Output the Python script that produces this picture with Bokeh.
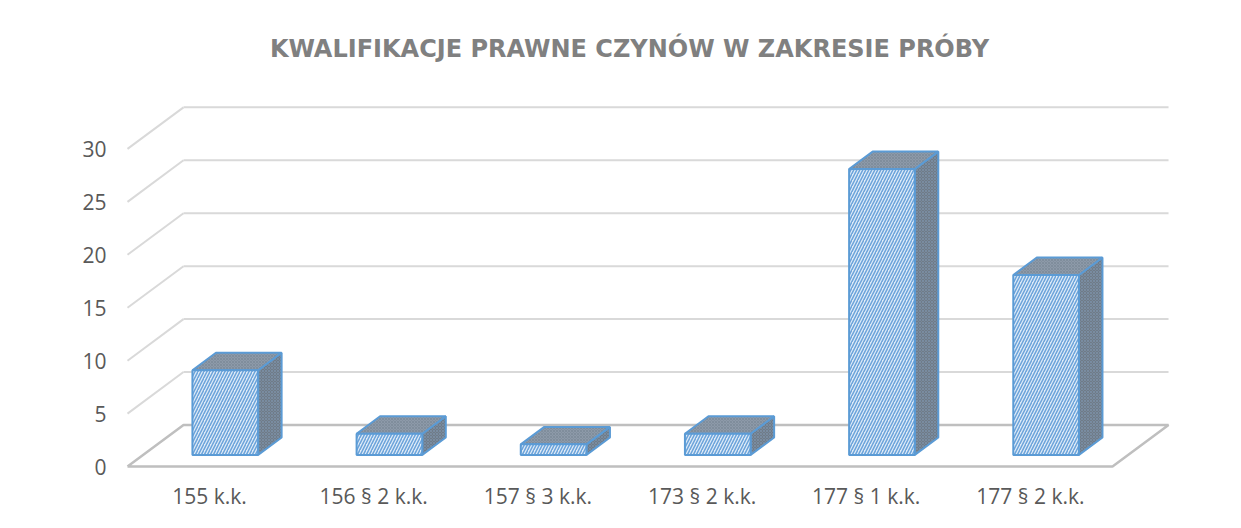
import numpy as np
from bokeh.plotting import figure
from bokeh.models import FixedTicker, Range1d, Label
from bokeh.embed import file_html
from bokeh.resources import INLINE

# ---- data ----
categories = ["155 k.k.", "156 § 2 k.k.", "157 § 3 k.k.", "173 § 2 k.k.", "177 § 1 k.k.", "177 § 2 k.k."]
values = [8, 2, 1, 2, 27, 17]
y_ticks = [0, 5, 10, 15, 20, 25, 30]
title_text = "KWALIFIKACJE PRAWNE CZYNÓW W ZAKRESIE PRÓBY"

# ---- 3D projection settings (slot units on x, value units on y) ----
PX_X = 164.17          # pixels per category slot
PX_Y = 10.7            # pixels per value unit
DX = 56 / PX_X         # depth vector, x part
DY = 42 / PX_Y         # depth vector, y part
D0, D1 = 0.28, 0.70    # bar depth span (fraction of floor depth)
HALF = 0.2             # half bar width in slot units
n = len(categories)

p = figure(width=1225, height=512, output_backend="svg", toolbar_location=None,
           x_range=Range1d(-7 / PX_X, (1175 - 127) / PX_X),
           y_range=Range1d(-6 / PX_Y, 471 / PX_Y),
           min_border_left=120, min_border_right=50, min_border_top=0, min_border_bottom=35)
p.xgrid.visible = False
p.ygrid.visible = False
p.outline_line_color = None
p.background_fill_color = "white"
p.border_fill_color = "white"

# ---- walls: gridlines ----
grid_vals = [v for v in y_ticks if v > 0]
side_xs = [[0, DX] for v in grid_vals]
side_ys = [[v, v + DY] for v in grid_vals]
back_xs = [[DX, n + DX] for v in grid_vals]
back_ys = [[v + DY, v + DY] for v in grid_vals]
p.multi_line(side_xs + back_xs, side_ys + back_ys, line_color="#d9d9d9", line_width=2)

# ---- floor ----
floor_x = [0, n, n + DX, DX, 0]
floor_y = [0, 0, DY, DY, 0]
p.line(floor_x, floor_y, line_color="#bfbfbf", line_width=2.5)

# ---- bars ----
ddx = (D1 - D0) * DX
ddy = (D1 - D0) * DY
front_xs, front_ys, top_xs, top_ys, side_bx, side_by = [], [], [], [], [], []
for i, v in enumerate(values):
    cx = i + 0.5
    x0 = cx - HALF + D0 * DX
    x1 = cx + HALF + D0 * DX
    y0 = D0 * DY
    y1 = v + D0 * DY
    front_xs.append([x0, x1, x1, x0])
    front_ys.append([y0, y0, y1, y1])
    top_xs.append([x0, x1, x1 + ddx, x0 + ddx])
    top_ys.append([y1, y1, y1 + ddy, y1 + ddy])
    side_bx.append([x1, x1 + ddx, x1 + ddx, x1])
    side_by.append([y0, y0 + ddy, y1 + ddy, y1])

p.patches(side_bx, side_by, fill_color="#6f7b88", line_color="#5b9bd5", line_width=2,
          hatch_pattern="x", hatch_color="#8fb3d9", hatch_scale=3, hatch_weight=0.6, hatch_alpha=0.5)
p.patches(top_xs, top_ys, fill_color="#8d9aa9", line_color="#5b9bd5", line_width=2,
          hatch_pattern="x", hatch_color="#6c7a88", hatch_scale=3, hatch_weight=0.6, hatch_alpha=0.7)
p.patches(front_xs, front_ys, fill_color="#deeaf7", line_color="#5b9bd5", line_width=2,
          hatch_pattern="/", hatch_color="#6aa3da", hatch_scale=6, hatch_weight=1.5)

# ---- title ----
p.add_layout(Label(x=(629 - 127) / PX_X, y=(469 - 47) / PX_Y, text=title_text,
                   text_align="center", text_baseline="middle",
                   text_font="DejaVu Sans", text_font_style="bold", text_font_size="24px",
                   text_color="#808080"))

# ---- axes ----
p.yaxis.ticker = FixedTicker(ticks=y_ticks)
p.yaxis.axis_line_color = None
p.yaxis.major_tick_line_color = None
p.yaxis.minor_tick_line_color = None
p.yaxis.major_tick_out = 0
p.yaxis.major_tick_in = 0
p.yaxis.major_label_standoff = 14
p.yaxis.major_label_text_font = "Open Sans"
p.yaxis.major_label_text_font_size = "21px"
p.yaxis.major_label_text_color = "#595959"

tick_pos = [i + 0.5 for i in range(n)]
p.xaxis.ticker = FixedTicker(ticks=tick_pos)
p.xaxis.major_label_overrides = {t: c for t, c in zip(tick_pos, categories)}
p.xaxis.axis_line_color = None
p.xaxis.major_tick_line_color = None
p.xaxis.minor_tick_line_color = None
p.xaxis.major_tick_out = 0
p.xaxis.major_tick_in = 0
p.xaxis.major_label_standoff = 9
p.xaxis.major_label_text_font = "Open Sans"
p.xaxis.major_label_text_font_size = "21px"
p.xaxis.major_label_text_color = "#595959"

open("out.html", "w").write(file_html(p, INLINE))
